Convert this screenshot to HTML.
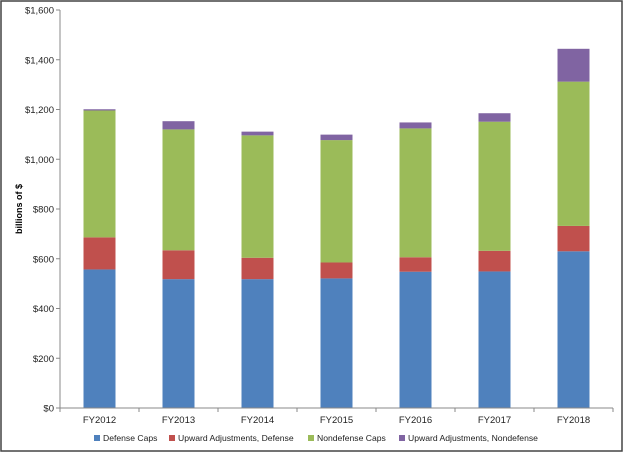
<!DOCTYPE html>
<html><head><meta charset="utf-8"><style>
body{margin:0;background:#fff;}
svg{display:block;font-family:"Liberation Sans",sans-serif;}
</style></head><body>
<svg id="chart" width="625" height="454">
<rect x="1" y="1" width="621" height="450" fill="#fff" stroke="#444" stroke-width="1.5"/>
<g id="bars"></g><g id="axes"></g><g id="legend"></g>
<text x="0" y="0" transform="translate(22,209) rotate(-90)" text-anchor="middle" font-size="9" font-weight="bold">billions of $</text>
</svg>
<script>
const categories=["FY2012","FY2013","FY2014","FY2015","FY2016","FY2017","FY2018"];
const defenseCaps=[557,518,518,521,548,549,630];
const upwardDefense=[129,116,86,64,58,83,102];
const nondefenseCaps=[510,486,492,492,518,519,580];
const upwardNondefense=[5,33,15,22,24,34,132];
const yTicks=[0,200,400,600,800,1000,1200,1400,1600];
const seriesNames=["Defense Caps","Upward Adjustments, Defense","Nondefense Caps","Upward Adjustments, Nondefense"];
const colors=["#4F81BD","#C0504D","#9BBB59","#8064A2"];
const NS="http://www.w3.org/2000/svg";
const x0=60,x1=613,y0=408,yTop=10,ymax=1600;
const y=v=>y0-(v/ymax)*(y0-yTop);
const step=(x1-x0)/categories.length;
const bw=32;
function mk(t,a,p){const e=document.createElementNS(NS,t);for(const k in a)e.setAttribute(k,a[k]);p.appendChild(e);return e;}
const axes=document.getElementById('axes'),bars=document.getElementById('bars'),legend=document.getElementById('legend');
yTicks.forEach(v=>{
 const t=mk('text',{x:x0-6,y:y(v)+3.5,'text-anchor':'end','font-size':9.5,fill:'#222'},axes);
 t.textContent='$'+v.toLocaleString('en-US');
 
 
 mk('line',{x1:x0-4,x2:x0,y1:y(v),y2:y(v),stroke:'#888'},axes);
});
mk('line',{x1:x0,x2:x0,y1:yTop,y2:y0,stroke:'#888'},axes);
mk('line',{x1:x0,x2:x1,y1:y0,y2:y0,stroke:'#888'},axes);
const series=[defenseCaps,upwardDefense,nondefenseCaps,upwardNondefense];
categories.forEach((c,i)=>{
 mk('line',{x1:x0+step*i,x2:x0+step*i,y1:y0,y2:y0+4,stroke:'#888'},axes);
 const cx=x0+step*(i+0.5);
 let base=0;
 series.forEach((s,j)=>{
  const r=mk('rect',{x:cx-bw/2,y:y(base+s[i]),width:bw,height:y(base)-y(base+s[i]),fill:colors[j]},bars);
  
  
  base+=s[i];
 });
 const t=mk('text',{x:cx,y:y0+15,'text-anchor':'middle','font-size':9.5,fill:'#222'},axes);
 t.textContent=c;
 
 
});
mk('line',{x1:x1,x2:x1,y1:y0,y2:y0+4,stroke:'#888'},axes);
const lx=[94,169,308,399];
seriesNames.forEach((n,j)=>{
 const g=mk('g',{},legend);
 
 
 mk('rect',{x:lx[j],y:435,width:6,height:6,fill:colors[j]},g);
 const t=mk('text',{x:lx[j]+9,y:441,'font-size':8.6,fill:'#222'},g);
 t.textContent=n;
});
</script>
</body></html>
